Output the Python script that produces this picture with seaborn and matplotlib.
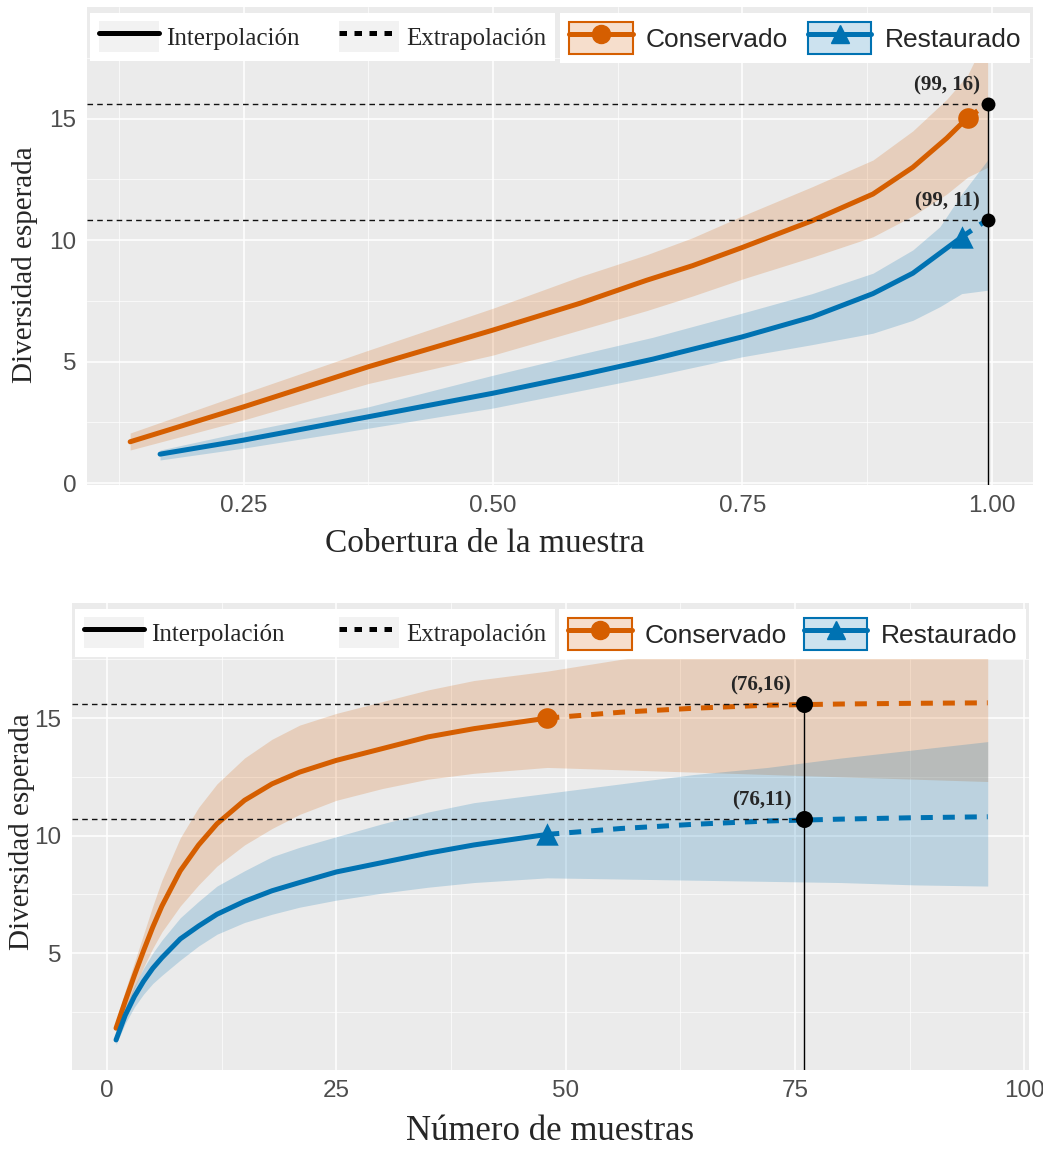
import matplotlib
matplotlib.use('Agg')
import matplotlib.pyplot as plt
from matplotlib.patches import Patch
from matplotlib.lines import Line2D
from matplotlib.colors import to_rgba
from matplotlib.ticker import FormatStrFormatter, MultipleLocator
import seaborn as sns

ORANGE = '#D55E00'
BLUE = '#0072B2'
SERIF = ['Liberation Serif', 'DejaVu Serif']

# Panel superior: diversidad vs cobertura de la muestra
cov_cons = [0.136, 0.25, 0.375, 0.50, 0.587, 0.654, 0.70, 0.75, 0.82, 0.881, 0.921, 0.955, 0.976]
div_cons = [1.70, 3.14, 4.79, 6.30, 7.40, 8.35, 8.95, 9.70, 10.8, 11.9, 13.0, 14.2, 15.05]
lo_cons = [1.36, 2.60, 4.10, 5.27, 6.30, 7.10, 7.70, 8.40, 9.30, 10.14, 11.0, 11.9, 12.6]
hi_cons = [2.06, 3.70, 5.47, 7.20, 8.50, 9.40, 10.1, 11.0, 12.2, 13.3, 14.5, 15.8, 16.8]
cov_cons_ext = [0.976, 0.996]
div_cons_ext = [15.05, 15.6]
lo_cons_ext = [12.6, 13.0]
hi_cons_ext = [16.8, 18.5]

cov_rest = [0.166, 0.25, 0.375, 0.50, 0.587, 0.66, 0.75, 0.82, 0.881, 0.921, 0.948, 0.970]
div_rest = [1.19, 1.77, 2.73, 3.70, 4.44, 5.10, 6.02, 6.84, 7.80, 8.64, 9.46, 10.13]
lo_rest = [0.95, 1.44, 2.26, 3.09, 3.80, 4.40, 5.20, 5.70, 6.17, 6.70, 7.26, 7.80]
hi_rest = [1.36, 2.11, 3.14, 4.44, 5.30, 6.00, 7.00, 7.80, 8.64, 9.60, 10.55, 11.9]
cov_rest_ext = [0.970, 0.996]
div_rest_ext = [10.13, 10.85]
lo_rest_ext = [7.80, 7.94]
hi_rest_ext = [11.9, 13.3]

ann_cov = [0.996, 0.996]
ann_cov_div = [15.6, 10.85]
ann_cov_labels = ['(99, 16)', '(99, 11)']

# Panel inferior: diversidad vs numero de muestras
m_int = [1, 2, 3, 4, 5, 6, 8, 10, 12, 15, 18, 21, 25, 30, 35, 40, 48]
sdiv_cons = [1.8, 2.95, 4.05, 5.1, 6.1, 7.0, 8.5, 9.6, 10.5, 11.5, 12.2, 12.7, 13.2, 13.7, 14.2, 14.55, 15.0]
slo_cons = [1.5, 2.5, 3.5, 4.4, 5.2, 5.9, 7.0, 7.9, 8.7, 9.6, 10.3, 10.9, 11.5, 12.0, 12.4, 12.65, 12.9]
shi_cons = [2.1, 3.4, 4.6, 5.8, 7.0, 8.1, 9.9, 11.2, 12.2, 13.3, 14.1, 14.7, 15.2, 15.7, 16.2, 16.6, 17.0]
sdiv_rest = [1.3, 2.35, 3.15, 3.8, 4.35, 4.8, 5.6, 6.15, 6.65, 7.2, 7.65, 8.0, 8.45, 8.85, 9.25, 9.6, 10.05]
slo_rest = [1.1, 2.0, 2.7, 3.25, 3.7, 4.05, 4.7, 5.3, 5.8, 6.3, 6.65, 6.95, 7.25, 7.55, 7.8, 8.0, 8.2]
shi_rest = [1.5, 2.7, 3.6, 4.35, 5.0, 5.55, 6.5, 7.2, 7.85, 8.5, 9.1, 9.5, 9.95, 10.5, 11.0, 11.4, 11.8]

m_ext = [48, 56, 64, 72, 80, 88, 96]
sdiv_cons_ext = [15.0, 15.25, 15.42, 15.55, 15.6, 15.63, 15.65]
slo_cons_ext = [12.9, 12.8, 12.7, 12.6, 12.5, 12.4, 12.3]
shi_cons_ext = [17.0, 17.5, 17.9, 18.3, 18.6, 18.8, 19.0]
sdiv_rest_ext = [10.05, 10.3, 10.48, 10.62, 10.7, 10.76, 10.8]
slo_rest_ext = [8.2, 8.15, 8.1, 8.05, 8.0, 7.9, 7.85]
shi_rest_ext = [11.8, 12.2, 12.6, 12.9, 13.3, 13.65, 14.0]

ann_m = [76, 76]
ann_m_div = [15.6, 10.7]
ann_m_labels = ['(76,16)', '(76,11)']

sns.set_theme(style='darkgrid', rc={
    'axes.facecolor': '#EBEBEB',
    'grid.color': 'white',
    'axes.axisbelow': True,
})
plt.rcParams['font.family'] = ['Liberation Sans', 'DejaVu Sans']


def draw_series(ax, x, y, lo, hi, x_ext, y_ext, lo_ext, hi_ext, color, marker, msize):
    ax.fill_between(x + x_ext[1:], lo + lo_ext[1:], hi + hi_ext[1:],
                    color=color, alpha=0.2, lw=0, zorder=1)
    sns.lineplot(x=x, y=y, ax=ax, color=color, lw=3.6, sort=False,
                 estimator=None, zorder=2)
    sns.lineplot(x=x_ext, y=y_ext, ax=ax, color=color, lw=3.6, sort=False,
                 estimator=None, zorder=2)
    ax.lines[-1].set_dashes([2.4, 2.0])
    sns.scatterplot(x=[x[-1]], y=[y[-1]], ax=ax, color=color, marker=marker,
                    s=msize, linewidth=0, zorder=3)


def style_axes(ax, xticks, yticks):
    ax.set_xticks(xticks)
    ax.set_yticks(yticks)
    ax.xaxis.set_minor_locator(MultipleLocator((xticks[1] - xticks[0]) / 2))
    ax.yaxis.set_minor_locator(MultipleLocator(2.5))
    ax.grid(which='major', color='white', lw=1.1)
    ax.grid(which='minor', color='white', lw=0.5)
    ax.tick_params(which='major', length=3.5, width=0.8, color='#333333',
                   labelsize=17.5, labelcolor='#4D4D4D', pad=4)
    ax.tick_params(which='minor', length=0)
    for s in ax.spines.values():
        s.set_visible(False)


def annotate(ax, xs, ys, labels, dx, dy, size):
    x0 = ax.get_xlim()[0]
    y0 = ax.get_ylim()[0]
    for x, y in zip(xs, ys):
        ax.hlines(y, x0, x, colors='#111111', lw=1.0, linestyles=(0, (4, 3)), zorder=4)
    ax.vlines(xs[0], y0, max(ys), colors='black', lw=1.0, zorder=4)
    sns.scatterplot(x=xs, y=ys, ax=ax, color='black', s=size, linewidth=0, zorder=6)
    for x, y, t in zip(xs, ys, labels):
        ax.text(x - dx, y + dy, t, ha='right', va='bottom', fontsize=15,
                fontweight='bold', family=SERIF, zorder=6)


def add_legends(ax, width1, width2):
    grey_key = Patch(facecolor='#F2F2F2', edgecolor='none')
    h1 = [(grey_key, Line2D([], [], color='black', lw=3.6)),
          (grey_key, Line2D([], [], color='black', lw=3.6, dashes=[1.5, 1.5]))]
    leg1 = ax.legend(h1, ['Interpolación', 'Extrapolación'], ncol=2,
                     loc='upper left', bbox_to_anchor=(0.003, 0.988, width1, 0.0),
                     mode='expand', prop={'family': SERIF, 'size': 18},
                     frameon=True, fancybox=False, framealpha=1,
                     facecolor='white', edgecolor='none', borderaxespad=0,
                     handlelength=2.4, handleheight=1.5, handletextpad=0.3,
                     borderpad=0.35, columnspacing=1.0)
    ax.add_artist(leg1)
    h2 = []
    for c, mk in [(ORANGE, 'o'), (BLUE, '^')]:
        h2.append((Patch(facecolor=to_rgba(c, 0.2), edgecolor=c, lw=1.5),
                   Line2D([], [], color=c, lw=3.6, marker=mk, markersize=13)))
    ax.legend(h2, ['Conservado', 'Restaurado'], ncol=2, loc='upper left',
              bbox_to_anchor=(0.997 - width2, 0.988, width2, 0.0), mode='expand',
              prop={'size': 19}, frameon=True, fancybox=False, framealpha=1,
              facecolor='white', edgecolor='none', borderaxespad=0,
              handlelength=2.4, handleheight=1.5, handletextpad=0.5,
              borderpad=0.35, columnspacing=1.0)


fig = plt.figure(figsize=(10.43, 11.57), dpi=100)
W, H = 1043, 1157

# ---- panel superior ----
ax1 = fig.add_axes([87 / W, 1 - 485 / H, (1033 - 87) / W, (485 - 7) / H])
draw_series(ax1, cov_cons, div_cons, lo_cons, hi_cons,
            cov_cons_ext, div_cons_ext, lo_cons_ext, hi_cons_ext, ORANGE, 'o', 220)
draw_series(ax1, cov_rest, div_rest, lo_rest, hi_rest,
            cov_rest_ext, div_rest_ext, lo_rest_ext, hi_rest_ext, BLUE, '^', 260)
ax1.set_xlim(0.0927, 1.0415)
ax1.set_ylim(-0.08, 19.6)
style_axes(ax1, [0.25, 0.50, 0.75, 1.00], [0, 5, 10, 15])
ax1.xaxis.set_major_formatter(FormatStrFormatter('%.2f'))
annotate(ax1, ann_cov, ann_cov_div, ann_cov_labels, 0.008, 0.35, 100)
ax1.set_xlabel('Cobertura de la muestra', family=SERIF, fontsize=24)
ax1.set_ylabel('Diversidad esperada', family=SERIF, fontsize=21)
ax1.xaxis.set_label_coords(0.42, -0.09)
ax1.yaxis.set_label_coords(-0.052, 0.46)
add_legends(ax1, 0.492, 0.497)

# ---- panel inferior ----
ax2 = fig.add_axes([72 / W, 1 - 1070 / H, (1029 - 72) / W, (1070 - 603) / H])
draw_series(ax2, m_int, sdiv_cons, slo_cons, shi_cons,
            m_ext, sdiv_cons_ext, slo_cons_ext, shi_cons_ext, ORANGE, 'o', 220)
draw_series(ax2, m_int, sdiv_rest, slo_rest, shi_rest,
            m_ext, sdiv_rest_ext, slo_rest_ext, shi_rest_ext, BLUE, '^', 260)
ax2.set_xlim(-3.8, 100.5)
ax2.set_ylim(0.02, 19.9)
style_axes(ax2, [0, 25, 50, 75, 100], [5, 10, 15])
annotate(ax2, ann_m, ann_m_div, ann_m_labels, 1.4, 0.35, 150)
ax2.set_xlabel('Número de muestras', family=SERIF, fontsize=25)
ax2.set_ylabel('Diversidad esperada', family=SERIF, fontsize=21)
ax2.xaxis.set_label_coords(0.5, -0.096)
ax2.yaxis.set_label_coords(-0.039, 0.51)
add_legends(ax2, 0.502, 0.488)

fig.savefig('out.png', dpi=100)
